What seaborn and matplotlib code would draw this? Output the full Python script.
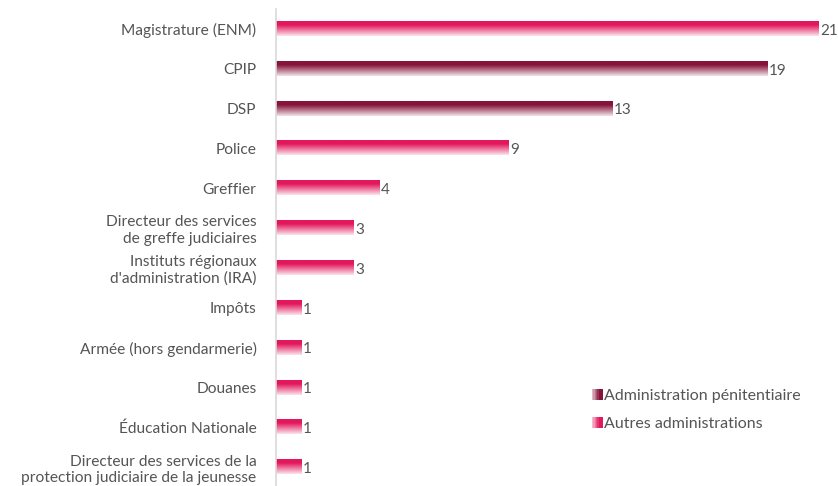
import numpy as np
import pandas as pd
import seaborn as sns
import matplotlib.pyplot as plt
from matplotlib.colors import LinearSegmentedColormap, to_rgb
from matplotlib.patches import Rectangle
from matplotlib.legend_handler import HandlerBase

# Data
categories = [
    "Magistrature (ENM)",
    "CPIP",
    "DSP",
    "Police",
    "Greffier",
    "Directeur des services\nde greffe judiciaires",
    "Instituts régionaux\nd'administration (IRA)",
    "Impôts",
    "Armée (hors gendarmerie)",
    "Douanes",
    "Éducation Nationale",
    "Directeur des services de la\nprotection judiciaire de la jeunesse",
]
values = [21, 19, 13, 9, 4, 3, 3, 1, 1, 1, 1, 1]
groups = ["Autres administrations", "Administration pénitentiaire", "Administration pénitentiaire",
          "Autres administrations", "Autres administrations", "Autres administrations",
          "Autres administrations", "Autres administrations", "Autres administrations",
          "Autres administrations", "Autres administrations", "Autres administrations"]

df = pd.DataFrame({"categorie": categories, "valeur": values, "groupe": groups})

colors = {"Administration pénitentiaire": "#86133a", "Autres administrations": "#e2175c"}
text_color = "#555555"

sns.set_theme(style="white")
plt.rcParams["font.family"] = ["Lato", "DejaVu Sans"]

fig = plt.figure(figsize=(8.38, 4.86), dpi=100)
ax = fig.add_axes([276 / 838, -0.002, 543 / 838, 0.984])

sns.barplot(data=df, y="categorie", x="valeur", hue="groupe", palette=colors,
            dodge=False, width=0.36, saturation=1, legend=False, ax=ax)


def gradient_cmap(c):
    r, g, b = to_rgb(c)
    light = (1 - (1 - r) * 0.12, 1 - (1 - g) * 0.12, 1 - (1 - b) * 0.12)
    return LinearSegmentedColormap.from_list("g", [(0, (r, g, b)), (0.25, (r, g, b)), (1, light)])


# replace flat bars by a vertical gradient (strong at top, fading to bottom)
grad = np.linspace(0, 1, 64).reshape(-1, 1)
for patch in ax.patches:
    w = patch.get_width()
    if w <= 0:
        continue
    x0, y0 = patch.get_x(), patch.get_y()
    h = patch.get_height()
    cmap = gradient_cmap(patch.get_facecolor())
    # y axis inverted: y0 is top of bar visually
    ax.imshow(grad, extent=[x0, x0 + w, y0 + h, y0], aspect="auto", cmap=cmap,
              interpolation="bilinear", zorder=2)
    patch.set_visible(False)

for i, v in enumerate(values):
    ax.text(v + 0.05, i + 0.05, str(v), va="center", ha="left", fontsize=11, color=text_color)

ax.set_xlim(0, 21)
ax.set_ylim(11.5, -0.5)
ax.set_xlabel("")
ax.set_ylabel("")
ax.set_xticks([])
ax.tick_params(axis="y", length=0, pad=14, labelsize=11.2, labelcolor=text_color)
for s in ["top", "right", "bottom"]:
    ax.spines[s].set_visible(False)
ax.spines["left"].set_color("#d9d9d9")
ax.spines["left"].set_linewidth(1.2)


class GradientHandler(HandlerBase):
    def __init__(self, color):
        super().__init__()
        self.color = color

    def create_artists(self, legend, orig_handle, xdescent, ydescent, width, height, fontsize, trans):
        cmap = gradient_cmap(self.color)
        n = 8
        size = height
        x_start = width - size
        arts = []
        for k in range(n):
            rect = Rectangle((x_start + k * size / n, -ydescent), size / n + 0.2, size,
                             facecolor=cmap(0.85 - 0.85 * k / (n - 1)), edgecolor="none", transform=trans)
            arts.append(rect)
        return arts


h1 = Rectangle((0, 0), 1, 1)
h2 = Rectangle((0, 0), 1, 1)
leg = ax.legend([h1, h2], ["Administration pénitentiaire", "Autres administrations"],
                handler_map={h1: GradientHandler(colors["Administration pénitentiaire"]),
                             h2: GradientHandler(colors["Autres administrations"])},
                loc="upper left", bbox_to_anchor=((578 - 276) / 543, 0.235),
                frameon=False, fontsize=11.5, handlelength=0.65, handleheight=0.65,
                handletextpad=0.1, labelspacing=0.9, labelcolor=text_color)

fig.savefig("out.png", dpi=100)
